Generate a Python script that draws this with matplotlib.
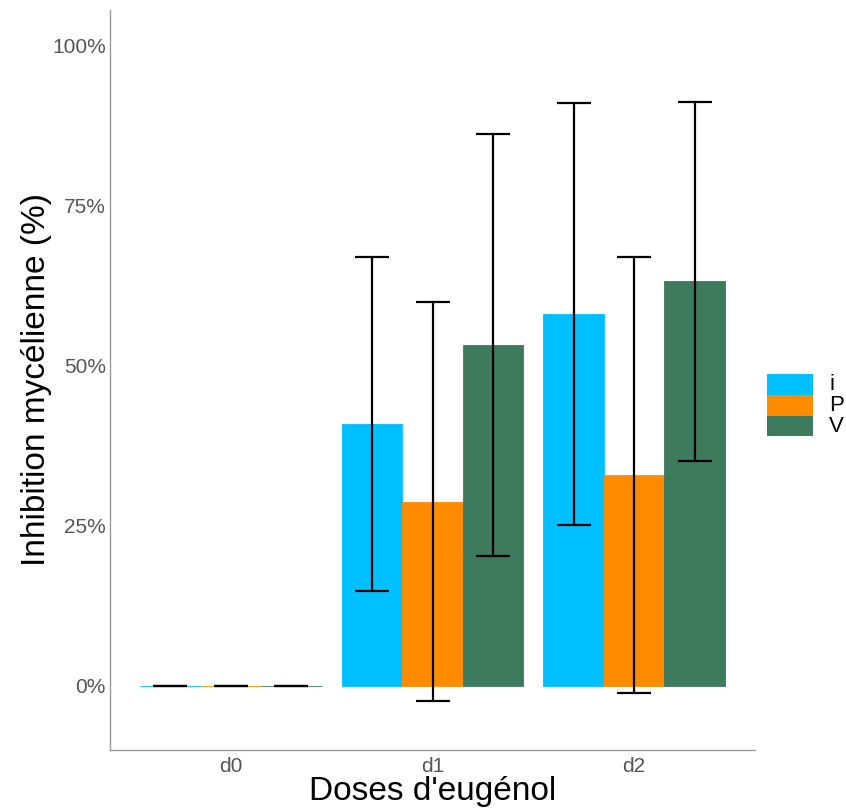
import matplotlib.pyplot as plt
from matplotlib.patches import Rectangle
import numpy as np

plt.rcParams['font.family'] = ['Liberation Sans', 'DejaVu Sans']

doses = ['d0', 'd1', 'd2']
groups = ['i', 'P', 'V']
colors = ['#00BFFF', '#FF8C00', '#3E7A5E']

# mean inhibition per group, per dose
means = {
    'i': [0.0, 0.409, 0.581],
    'P': [0.0, 0.288, 0.330],
    'V': [0.0, 0.533, 0.633],
}
lower = {
    'i': [0.0, 0.148, 0.252],
    'P': [0.0, -0.023, -0.011],
    'V': [0.0, 0.203, 0.352],
}
upper = {
    'i': [0.0, 0.670, 0.911],
    'P': [0.0, 0.600, 0.670],
    'V': [0.0, 0.862, 0.912],
}

W, H = 846, 808
fig = plt.figure(figsize=(W / 100, H / 100), dpi=100)
ax = fig.add_axes([110 / W, 1 - 750 / H, 645 / W, 740 / H])

x = np.arange(len(doses))
w = 0.3
for k, (g, c) in enumerate(zip(groups, colors)):
    xs = x + (k - 1) * w
    m = np.array(means[g])
    ax.bar(xs, m, width=w, color=c, edgecolor=c, linewidth=0.6, zorder=2)
    yerr = [m - np.array(lower[g]), np.array(upper[g]) - m]
    ax.errorbar(xs, m, yerr=yerr, fmt='none', ecolor='black', elinewidth=1.6,
                capsize=12.5, capthick=1.6, zorder=3)

ax.set_xlim(-0.6, 2.6)
ax.set_ylim(-0.1, 1.056)
ax.set_xticks(x)
ax.set_xticklabels(doses)
ax.set_yticks([0, 0.25, 0.5, 0.75, 1.0])
ax.set_yticklabels(['0%', '25%', '50%', '75%', '100%'])
ax.tick_params(length=0, labelsize=15, colors='#555555')
ax.tick_params(axis='y', pad=3)
ax.tick_params(axis='x', pad=5)

for s in ['top', 'right']:
    ax.spines[s].set_visible(False)
for s in ['left', 'bottom']:
    ax.spines[s].set_color('#999999')
    ax.spines[s].set_linewidth(1.0)

ax.set_xlabel("Doses d'eugénol", fontsize=24, labelpad=0)
ax.set_ylabel('Inhibition mycélienne (%)', fontsize=24, labelpad=0)

# legend drawn by hand: stacked keys without gaps
key_h = 20.8
top = 374
for k, (g, c) in enumerate(zip(groups, colors)):
    y0 = top + k * key_h
    fig.patches.append(Rectangle((767 / W, 1 - (y0 + key_h) / H), 46 / W, key_h / H,
                                 transform=fig.transFigure, facecolor=c,
                                 edgecolor='none'))
    fig.text(829 / W, 1 - (y0 + key_h / 2) / H, g, fontsize=16,
             ha='left', va='center')

fig.savefig('out.png', dpi=100, facecolor='white')
